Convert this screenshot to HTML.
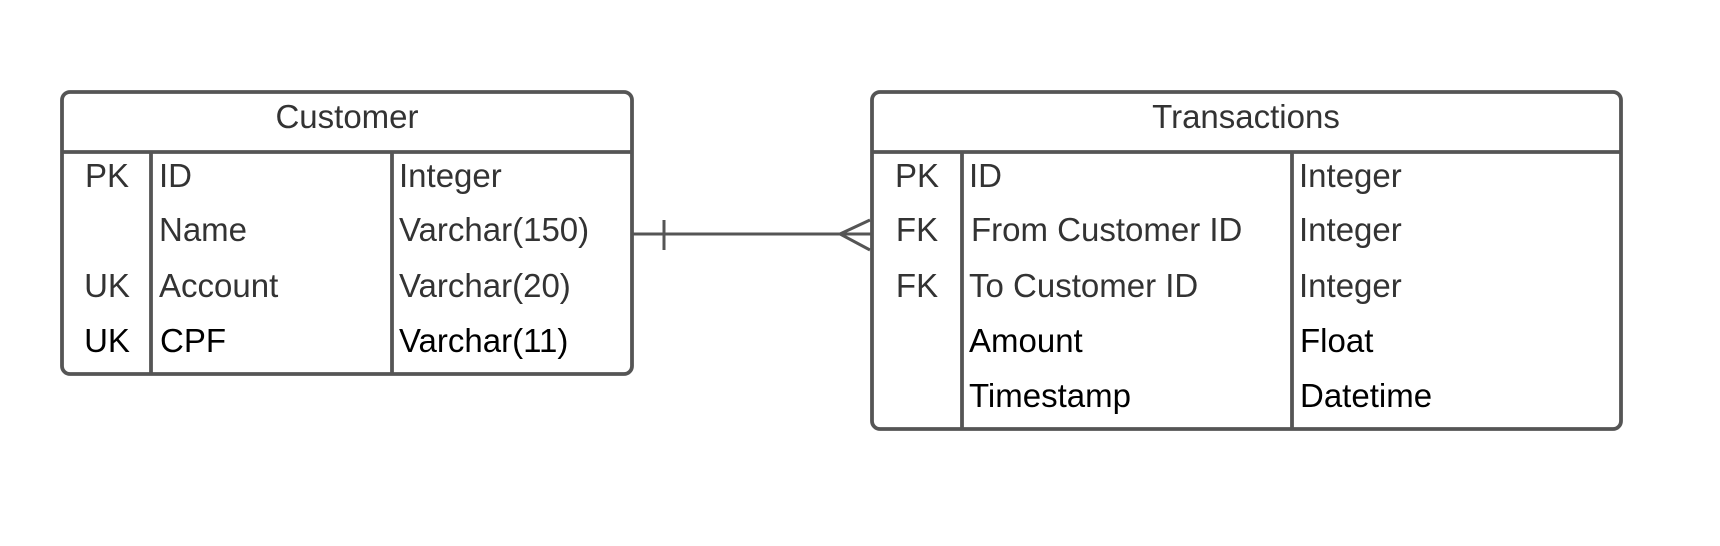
<!DOCTYPE html>
<html><head><meta charset="utf-8"><style>
html,body{margin:0;padding:0;background:#fff;}
svg{display:block;}
text{font-family:"Liberation Sans",sans-serif;font-size:33px;}
</style></head><body>
<svg width="1720" height="546" viewBox="0 0 1720 546" xmlns="http://www.w3.org/2000/svg">
<g fill="none" stroke="#555" stroke-width="3.8">
<rect x="62" y="92" width="570" height="282" rx="8"/>
<line x1="62" y1="152" x2="632" y2="152"/>
<line x1="151" y1="152" x2="151" y2="374"/>
<line x1="392" y1="152" x2="392" y2="374"/>
<rect x="872" y="92" width="749" height="337" rx="8"/>
<line x1="872" y1="152" x2="1621" y2="152"/>
<line x1="962" y1="152" x2="962" y2="429"/>
<line x1="1292" y1="152" x2="1292" y2="429"/>
<line x1="632" y1="234" x2="872" y2="234" stroke-width="3"/>
<line x1="664" y1="220" x2="664" y2="250" stroke-width="3"/>
<polyline points="870,220 840,234 870,250" stroke-width="3"/>
</g>
<g fill="#333">
<text x="347" y="128" text-anchor="middle">Customer</text>
<text x="107" y="187" text-anchor="middle">PK</text>
<text x="159" y="187">ID</text>
<text x="399" y="187">Integer</text>
<text x="159" y="241">Name</text>
<text x="399" y="241">Varchar(150)</text>
<text x="107" y="297" text-anchor="middle">UK</text>
<text x="159" y="297">Account</text>
<text x="399" y="297">Varchar(20)</text>
</g>
<g fill="#000">
<text x="107" y="352" text-anchor="middle">UK</text>
<text x="160" y="352">CPF</text>
<text x="399" y="352">Varchar(11)</text>
</g>
<g fill="#333">
<text x="1246" y="128" text-anchor="middle">Transactions</text>
<text x="917" y="187" text-anchor="middle">PK</text>
<text x="969" y="187">ID</text>
<text x="1299" y="187">Integer</text>
<text x="917" y="241" text-anchor="middle">FK</text>
<text x="971" y="241">From Customer ID</text>
<text x="1299" y="241">Integer</text>
<text x="917" y="297" text-anchor="middle">FK</text>
<text x="969" y="297">To Customer ID</text>
<text x="1299" y="297">Integer</text>
</g>
<g fill="#000">
<text x="969" y="352">Amount</text>
<text x="1300" y="352">Float</text>
<text x="969" y="407">Timestamp</text>
<text x="1300" y="407">Datetime</text>
</g>
</svg>
</body></html>
